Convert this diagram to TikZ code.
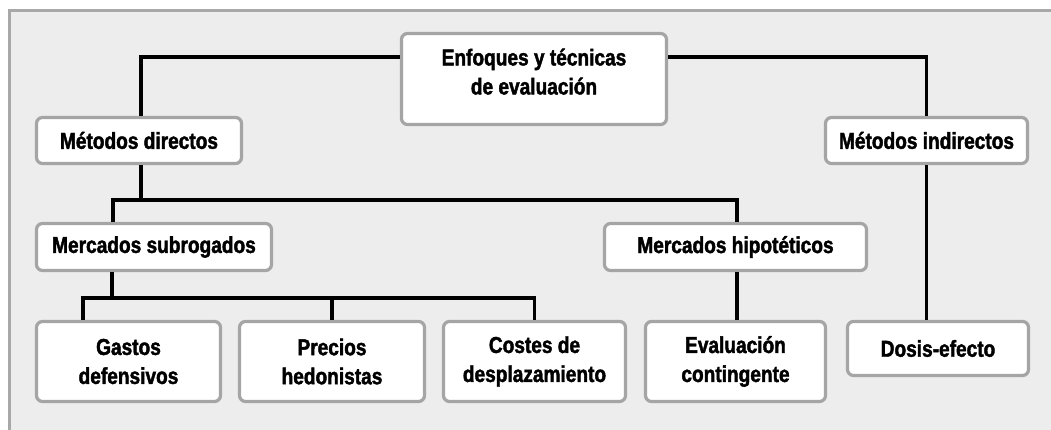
\documentclass[tikz,border=0pt]{standalone}
\usepackage{fontspec}
\setmainfont{Liberation Sans}[FakeStretch=0.83, BoldFeatures={FakeBold=1.8}]
\usepackage{tikz}
\usetikzlibrary{
	calc
}
\definecolor{framegray}{HTML}{A8A8A8}
\definecolor{panelgray}{HTML}{EDEDED}
\definecolor{boxgray}{HTML}{A5A5A5}
\tikzset{
	concept box/.style={
		draw=boxgray,
		line width=3.2pt,
		fill=white,
		rounded corners=6pt,
		inner sep=0pt,
		align=center,
		font=\fontsize{23pt}{29pt}\selectfont\bfseries
	},
	low box/.style={
		concept box,
		minimum height=80pt
	},
	link line/.style={
		line width=3.2pt,
		black
	}
}

\begin{document}
\begin{tikzpicture}[x=1pt,y=1pt] %%%%% ENFOQUES
		\useasboundingbox (0,0) rectangle (1051,430);
		\clip (0,0) rectangle (1051,430);
		\draw [draw=framegray, fill=panelgray, line width=3pt] (9,419) rectangle (1080,-20);
		% nivel 1 i 2
		\node [concept box, minimum width=265pt, minimum height=91pt, text depth=15pt] (enfoques) at (534,351) {Enfoques y técnicas\\de evaluación};
		\node [concept box, minimum width=205pt, minimum height=46pt] (directos) at (139,289.5) {Métodos directos};
		\node [concept box, minimum width=202pt, minimum height=46pt] (indirectos) at (926.5,289.5) {Métodos indirectos};
		% nivel 3
		\node [concept box, minimum width=235pt, minimum height=47pt] (subrogados) at (154,183) {Mercados subrogados};
		\node [concept box, minimum width=262pt, minimum height=47pt] (hipoteticos) at (735.5,183) {Mercados hipotéticos};
		% nivel 4
		\node [low box, minimum width=184pt] (gastos) at (128.5,68.5) {Gastos\\defensivos};
		\node [low box, minimum width=185pt] (precios) at (332,68.5) {Precios\\hedonistas};
		\node [low box, minimum width=182pt] (costes) at (534.5,68.5) {Costes de\\desplazamiento};
		\node [low box, minimum width=180pt] (contingente) at (735.5,68.5) {Evaluación\\contingente};
		\node [concept box, minimum width=181pt, minimum height=54pt] (dosis) at (938,81.5) {Dosis-efecto};
		% lineas
		\draw [link line] ([yshift=22pt]enfoques.west) -| ([xshift=2pt]directos.north);
		\draw [link line] ([yshift=22pt]enfoques.east) -| (indirectos.north);
		\draw [link line] ([xshift=2pt]directos.south) -- ++(0,-35) coordinate (directbus);
		\draw [link line] ([xshift=-41pt]subrogados.north) |- (directbus) -| ([xshift=1.5pt]hipoteticos.north);
		\draw [link line] ([xshift=-42pt]subrogados.south) -- ++(0,-26) coordinate (subbus);
		\draw [link line] ([xshift=-45.5pt]gastos.north) |- (subbus) -| (costes.north);
		\draw [link line] (precios.north) -- (precios.north |- subbus);
		\draw [link line] ([xshift=1.5pt]hipoteticos.south) -- ([xshift=1.5pt]contingente.north);
		\draw [link line] (indirectos.south) -- (indirectos.south |- dosis.north);
	\end{tikzpicture}
\end{document}
